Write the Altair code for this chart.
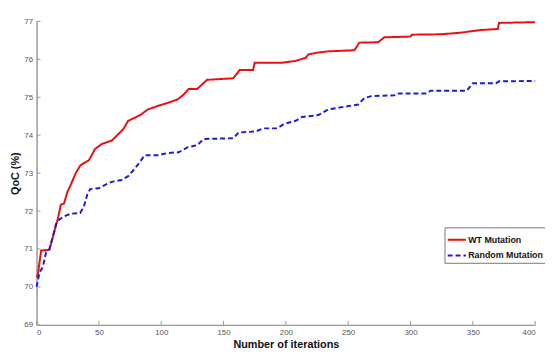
import altair as alt
import pandas as pd

wt_x = [0, 1, 3.7, 10.3, 16.9, 19.5, 22, 24.8, 27.4, 31.4, 35.3, 42, 47, 52.5, 60.4, 65.6, 69.6, 73.5, 78.8, 84,
        89.3, 97.2, 105, 113, 118, 122, 128.9, 136.8, 157.8, 163, 173.7, 175, 197, 208, 216, 218, 226, 234, 255, 259,
        274, 279, 300, 301, 324, 339.7, 355.5, 370, 371, 400]
wt_y = [70.25, 70.33, 70.96, 70.98, 71.78, 72.17, 72.2, 72.51, 72.69, 73.0, 73.21, 73.34, 73.64, 73.77, 73.86, 74.03,
        74.16, 74.38, 74.46, 74.55, 74.68, 74.77, 74.85, 74.94, 75.07, 75.22, 75.22, 75.46, 75.5, 75.72, 75.72, 75.91,
        75.91, 75.96, 76.04, 76.13, 76.18, 76.21, 76.24, 76.44, 76.45, 76.58, 76.6, 76.65, 76.66, 76.7, 76.77, 76.8,
        76.96, 76.98]

rnd_x = [0, 2.4, 5, 7.6, 10.3, 12.9, 15.5, 18.2, 22, 27.4, 35, 38, 40.6, 43, 49.8, 55, 60.3, 68.2, 73.5, 78.8,
         82.8, 86.7, 97, 105, 114, 121, 129, 134, 158, 162, 176, 181.6, 193, 198.7, 208, 213, 226, 234, 245, 258,
         263, 268.5, 287, 289.6, 313, 316, 345, 350, 368.6, 371, 400]
rnd_y = [70.0, 70.39, 70.52, 70.91, 71.0, 71.3, 71.65, 71.78, 71.86, 71.93, 71.95, 72.12, 72.43, 72.58, 72.6, 72.69,
         72.77, 72.82, 72.92, 73.12, 73.29, 73.47, 73.47, 73.53, 73.55, 73.68, 73.74, 73.9, 73.92, 74.07, 74.1, 74.18,
         74.18, 74.3, 74.38, 74.48, 74.53, 74.68, 74.74, 74.81, 74.98, 75.03, 75.05, 75.1, 75.1, 75.17, 75.17, 75.37,
         75.37, 75.42, 75.43]

series = ["WT Mutation", "Random Mutation"]
x_ticks = [0, 50, 100, 150, 200, 250, 300, 350, 400]
y_ticks = [69, 70, 71, 72, 73, 74, 75, 76, 77]

df = pd.concat([
    pd.DataFrame({"it": wt_x, "qoc": wt_y, "s": series[0], "o": range(len(wt_x))}),
    pd.DataFrame({"it": rnd_x, "qoc": rnd_y, "s": series[1], "o": range(len(rnd_x))}),
])

xscale = alt.Scale(domain=[0, 400], nice=False)
yscale = alt.Scale(domain=[69, 77], nice=False, zero=False)

axis_common = dict(domainColor="#999999", domainWidth=1.5, ticks=False, grid=False, labelOverlap=False,
                   labelColor="#555555", labelFontSize=8, labelFont="Liberation Sans",
                   titleFont="Liberation Sans", titleFontSize=11, titleFontWeight="bold",
                   titleColor="#111111")
x_axis = alt.Axis(values=x_ticks, labelPadding=4, titlePadding=2, **axis_common)
y_axis = alt.Axis(values=y_ticks, labelPadding=4, titlePadding=3, **axis_common)

lines = alt.Chart(df).mark_line(strokeWidth=2).encode(
    x=alt.X("it:Q", scale=xscale, title="Number of iterations", axis=x_axis),
    y=alt.Y("qoc:Q", scale=yscale, title="QoC (%)", axis=y_axis),
    color=alt.Color("s:N", scale=alt.Scale(domain=series, range=["#e81010", "#1a1ae0"]), title=None,
                    legend=alt.Legend(orient="none", legendX=414, legendY=209, symbolType="stroke",
                                      symbolSize=340, symbolStrokeWidth=2, labelFontSize=9,
                                      labelFont="Liberation Sans", labelFontWeight="bold",
                                      labelColor="#111111", strokeColor="#777777", fillColor="white",
                                      padding=2, rowPadding=-5, labelOffset=1, cornerRadius=0)),
    strokeDash=alt.StrokeDash("s:N", scale=alt.Scale(domain=series, range=[[1, 0], [5, 3]]),
                              legend=alt.Legend(orient="none", legendX=414, legendY=209, title=None)),
    order="o:Q",
)

yt = alt.Chart(pd.DataFrame({"v": y_ticks})).mark_rule(color="#999999", strokeWidth=1).encode(
    y=alt.Y("v:Q", scale=yscale, title="QoC (%)", axis=y_axis), x=alt.value(0), x2=alt.value(4))
xt = alt.Chart(pd.DataFrame({"t": x_ticks})).mark_rule(color="#999999", strokeWidth=1).encode(
    x=alt.X("t:Q", scale=xscale, title="Number of iterations", axis=x_axis), y=alt.value(308), y2=alt.value(304))

chart = alt.layer(lines, yt, xt).properties(
    width=506, height=308,
    autosize=alt.AutoSizeParams(type="none"),
    padding={"left": 29, "top": 11, "right": 10, "bottom": 30},
).configure_view(stroke=None).configure_legend(title=None)

chart.save("out.html", embed_options={"renderer": "svg", "actions": False})
